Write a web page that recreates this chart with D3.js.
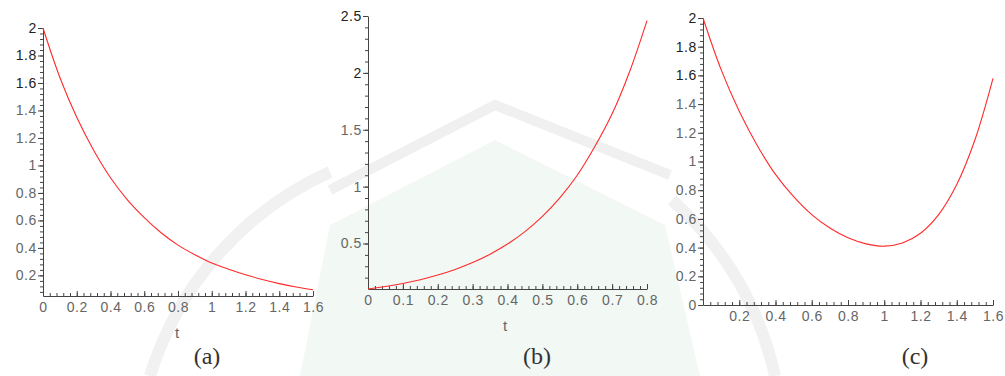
<!DOCTYPE html>
<html>
<head>
<meta charset="utf-8">
<script src="https://cdn.jsdelivr.net/npm/d3@7"></script>
<style>
  html, body { margin: 0; padding: 0; background: #fff; }
  svg { display: block; }
</style>
</head>
<body>
<script>
// values
const tA = [0, 0.1, 0.2, 0.3, 0.4, 0.5, 0.6, 0.7, 0.8, 0.9, 1.0, 1.1, 1.2, 1.3, 1.4, 1.5, 1.6];
const yA = [2.0, 1.64, 1.35, 1.11, 0.91, 0.75, 0.62, 0.51, 0.42, 0.35, 0.29, 0.245, 0.205, 0.17, 0.14, 0.115, 0.095];

const tB = [0, 0.05, 0.1, 0.15, 0.2, 0.25, 0.3, 0.35, 0.4, 0.45, 0.5, 0.55, 0.6, 0.65, 0.7, 0.75, 0.8];
const yB = [0.1, 0.122, 0.149, 0.182, 0.223, 0.272, 0.332, 0.406, 0.495, 0.605, 0.739, 0.902, 1.1, 1.35, 1.64, 2.01, 2.46];

const tC = [0, 0.1, 0.2, 0.3, 0.4, 0.5, 0.6, 0.7, 0.8, 0.9, 1.0, 1.1, 1.2, 1.3, 1.4, 1.5, 1.6];
const yC = [2.0, 1.64, 1.35, 1.11, 0.91, 0.755, 0.63, 0.536, 0.468, 0.426, 0.41, 0.432, 0.5, 0.63, 0.84, 1.15, 1.58];

const xTicksA = [0, 0.2, 0.4, 0.6, 0.8, 1, 1.2, 1.4, 1.6];
const yTicksA = [0.2, 0.4, 0.6, 0.8, 1, 1.2, 1.4, 1.6, 1.8, 2];
const xTicksB = [0, 0.1, 0.2, 0.3, 0.4, 0.5, 0.6, 0.7, 0.8];
const yTicksB = [0.5, 1, 1.5, 2, 2.5];
const xTicksC = [0.2, 0.4, 0.6, 0.8, 1, 1.2, 1.4, 1.6];
const yTicksC = [0, 0.2, 0.4, 0.6, 0.8, 1, 1.2, 1.4, 1.6, 1.8, 2];

const svg = d3.select('body')
  .append('svg')
  .attr('width', 1005)
  .attr('height', 376)
  .attr('viewBox', [0, 0, 1005, 376]);

// faint watermark in the background
const wm = svg.append('g');
wm.append('path')
  .attr('fill', '#f2f8f4')
  .attr('d', 'M 300 376 L 330 225 L 495 140 L 665 225 L 700 376 Z');
wm.append('path')
  .attr('fill', 'none')
  .attr('stroke', '#f0f0f0')
  .attr('stroke-width', 10)
  .attr('d', 'M 330 190 L 495 105 L 670 175');
wm.append('path')
  .attr('fill', 'none')
  .attr('stroke', '#f1f1f1')
  .attr('stroke-width', 12)
  .attr('d', 'M 150 376 A 330 330 0 0 1 330 172');
wm.append('path')
  .attr('fill', 'none')
  .attr('stroke', '#f1f1f1')
  .attr('stroke-width', 12)
  .attr('d', 'M 672 200 A 330 330 0 0 1 775 376');

function range(a, b, step) {
  const out = [];
  const n = Math.round((b - a) / step);
  for (let i = 0; i <= n; i++) out.push(+(a + i * step).toFixed(4));
  return out;
}

function drawPanel(p) {
  const g = svg.append('g');

  const x = d3.scaleLinear().domain(p.xDomain).range([p.left, p.right]);
  const y = d3.scaleLinear().domain(p.yDomain).range([p.bottom, p.top]);

  const fmt = d => String(+d.toFixed(2));

  // minor ticks
  g.append('g')
    .attr('transform', `translate(0 ${p.bottom})`)
    .call(d3.axisBottom(x).tickValues(p.xMinor).tickSize(-3).tickFormat(''))
    .call(s => s.select('.domain').remove());
  g.append('g')
    .attr('transform', `translate(${p.left} 0)`)
    .call(d3.axisLeft(y).tickValues(p.yMinor).tickSize(3).tickFormat(''))
    .call(s => s.select('.domain').remove());

  const xAxis = g.append('g')
    .attr('transform', `translate(0 ${p.bottom})`)
    .call(d3.axisBottom(x).tickValues(p.xTicks).tickSizeInner(-5).tickSizeOuter(0)
      .tickPadding(6).tickFormat(fmt));
  const yAxis = g.append('g')
    .attr('transform', `translate(${p.left} 0)`)
    .call(d3.axisLeft(y).tickValues(p.yTicks).tickSizeInner(5).tickSizeOuter(0)
      .tickPadding(1).tickFormat(fmt));

  [xAxis, yAxis].forEach(a => {
    a.select('.domain').attr('stroke', '#444');
    a.selectAll('text')
      .attr('fill', '#666')
      .attr('font-family', 'Liberation Sans, Arial, sans-serif')
      .attr('font-size', 14)
      .attr('letter-spacing', 0.6);
  });
  yAxis.selectAll('text').filter(d => d >= p.darkFrom).attr('fill', '#222');
  g.selectAll('.tick line').attr('stroke', '#444');

  const line = d3.line()
    .x(d => x(d[0]))
    .y(d => y(d[1]))
    .curve(d3.curveCatmullRom);

  g.append('path')
    .datum(p.t.map((t, i) => [t, p.v[i]]))
    .attr('fill', 'none')
    .attr('stroke', '#ff2a2a')
    .attr('stroke-width', 1.1)
    .attr('d', line);

  if (p.xLabel) {
    g.append('text')
      .attr('x', p.xLabelX)
      .attr('y', p.bottom + 42)
      .attr('text-anchor', 'middle')
      .attr('fill', '#666')
      .attr('font-family', 'Liberation Sans, Arial, sans-serif')
      .attr('font-size', 15)
      .text(p.xLabel);
  }

  g.append('text')
    .attr('x', p.capX)
    .attr('y', 364)
    .attr('text-anchor', 'middle')
    .attr('fill', '#333')
    .attr('font-family', 'Liberation Serif, Times New Roman, serif')
    .attr('font-size', 24)
    .text(p.caption);
}

drawPanel({
  t: tA, v: yA,
  xDomain: [0, 1.6], yDomain: [0.05, 2],
  left: 43, right: 313, top: 28, bottom: 296,
  xTicks: xTicksA, yTicks: yTicksA,
  xMinor: range(0, 1.6, 0.04), yMinor: range(0.08, 2, 0.04),
  darkFrom: 1.6,
  xLabel: 't', xLabelX: 177, caption: '(a)', capX: 207
});

drawPanel({
  t: tB, v: yB,
  xDomain: [0, 0.8], yDomain: [0.1, 2.5],
  left: 368, right: 647, top: 16, bottom: 289,
  xTicks: xTicksB, yTicks: yTicksB,
  xMinor: range(0, 0.8, 0.02), yMinor: range(0.2, 2.5, 0.1),
  darkFrom: 2,
  xLabel: 't', xLabelX: 505, caption: '(b)', capX: 537
});

drawPanel({
  t: tC, v: yC,
  xDomain: [0, 1.6], yDomain: [0, 2],
  left: 703, right: 993, top: 18, bottom: 305,
  xTicks: xTicksC, yTicks: yTicksC,
  xMinor: range(0, 1.6, 0.04), yMinor: range(0, 2, 0.04),
  darkFrom: 1.6,
  xLabel: null, caption: '(c)', capX: 915
});
</script>
</body>
</html>
